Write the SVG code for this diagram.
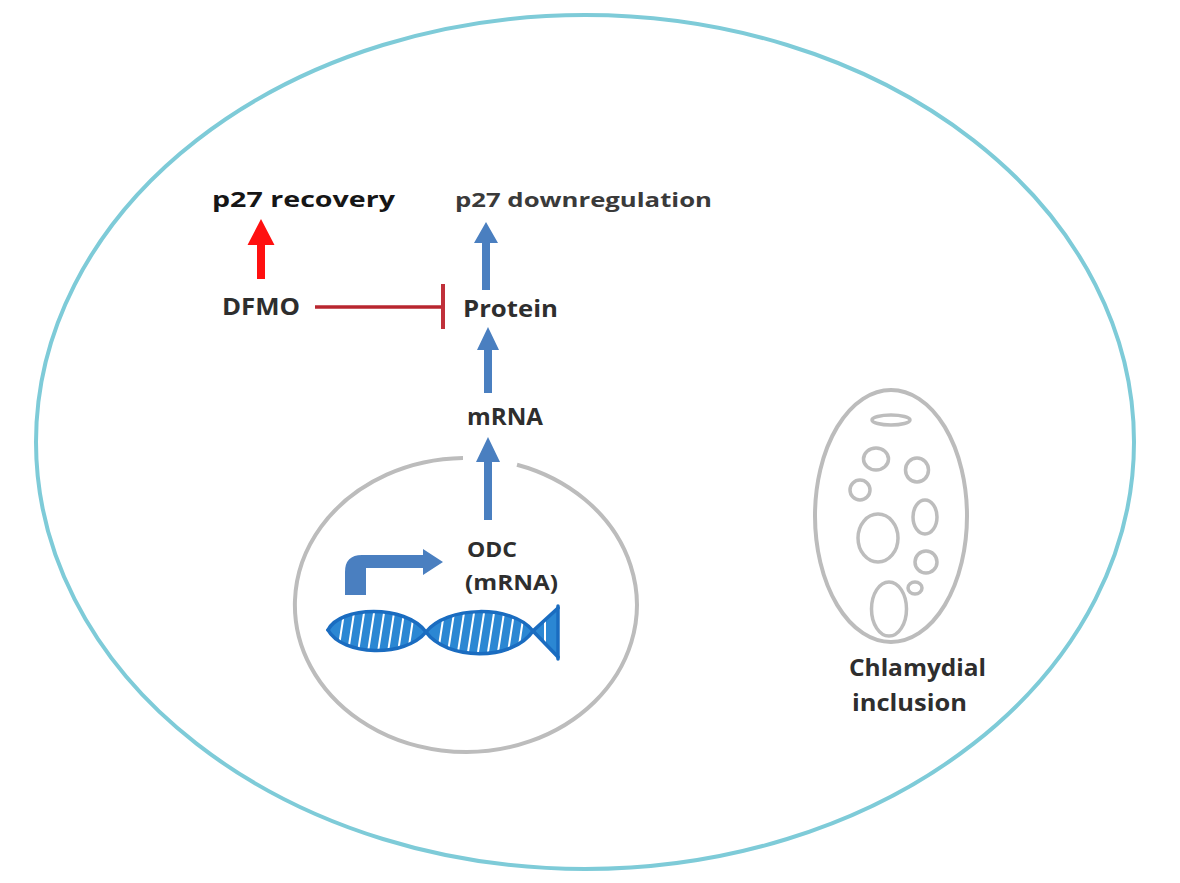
<svg xmlns="http://www.w3.org/2000/svg" width="1180" height="883" viewBox="0 0 1180 883">
  <style>
    .t { font-family: "Open Sans", "Liberation Sans", sans-serif; font-weight: bold; fill: #2e2e2e; }
    .cell { fill: none; stroke: #7ecbd8; stroke-width: 4; }
    .gray { fill: none; stroke: #bcbcbc; stroke-width: 4; }
    .vac { fill: none; stroke: #bdbdbd; stroke-width: 3.5; }
    .blue { fill: #4a7fc0; }
    .red { fill: #ff1010; }
    .inh { stroke: #b8262f; stroke-width: 3.5; fill: none; }
    .strand { fill: none; stroke: #1a6cc0; stroke-width: 3.5; stroke-linecap: round; }
    .rung { stroke: #ffffff; stroke-width: 2; }
  </style>
  <defs>
    <clipPath id="lobe1"><path d="M328,630 C340,606 405,604 426,632 C405,658 342,656 328,630 Z"/></clipPath>
    <clipPath id="lobe2"><path d="M426,632 C446,606 512,604 533,631 C512,662 446,660 426,632 Z"/></clipPath>
  </defs>
  <rect width="1180" height="883" fill="#ffffff"/>

  <g id="cell">
    <ellipse class="cell" cx="585" cy="442" rx="549" ry="427"/>
  </g>

  <g id="nucleus">
    <path class="gray" d="M517,464.7 A171,147 0 1 1 463,458"/>
  </g>

  <g id="dna">
    <path d="M328,630 C340,606 405,604 426,632 C405,658 342,656 328,630 Z" fill="#2b87d3"/>
    <path d="M426,632 C446,606 512,604 533,631 C512,662 446,660 426,632 Z" fill="#2b87d3"/>
    <g clip-path="url(#lobe1)">
      <line class="rung" x1="346" y1="600" x2="336" y2="665"/>
      <line class="rung" x1="356" y1="600" x2="346" y2="665"/>
      <line class="rung" x1="366" y1="600" x2="356" y2="665"/>
      <line class="rung" x1="376" y1="600" x2="366" y2="665"/>
      <line class="rung" x1="386" y1="600" x2="376" y2="665"/>
      <line class="rung" x1="396" y1="600" x2="386" y2="665"/>
      <line class="rung" x1="406" y1="600" x2="396" y2="665"/>
      <line class="rung" x1="416" y1="600" x2="406" y2="665"/>
    </g>
    <g clip-path="url(#lobe2)">
      <line class="rung" x1="446" y1="600" x2="436" y2="665"/>
      <line class="rung" x1="456" y1="600" x2="446" y2="665"/>
      <line class="rung" x1="466" y1="600" x2="456" y2="665"/>
      <line class="rung" x1="476" y1="600" x2="466" y2="665"/>
      <line class="rung" x1="486" y1="600" x2="476" y2="665"/>
      <line class="rung" x1="496" y1="600" x2="486" y2="665"/>
      <line class="rung" x1="506" y1="600" x2="496" y2="665"/>
      <line class="rung" x1="516" y1="600" x2="506" y2="665"/>
      <line class="rung" x1="526" y1="600" x2="516" y2="665"/>
    </g>
    <path d="M533,631 L558,608 L558,657 Z" fill="#2b87d3"/>
    <line class="rung" x1="545" y1="618" x2="545" y2="645"/>
    <path class="strand" d="M328,630 C340,606 405,604 426,632 C446,660 512,662 533,631 L558,608"/>
    <path class="strand" d="M328,630 C342,656 405,658 426,632 C446,606 512,604 533,631 L558,657"/>
    <line class="strand" x1="558" y1="606" x2="558" y2="659"/>
  </g>

  <g id="promoter">
    <path class="blue" d="M345,595 L345,572 Q345,555 362,555 L423,555 L423,549 L443,562 L423,575 L423,568 L366,568 L366,595 Z"/>
  </g>

  <g id="inclusion">
    <ellipse class="gray" cx="891" cy="516" rx="76" ry="126"/>
    <ellipse class="vac" cx="891" cy="420" rx="19" ry="5"/>
    <ellipse class="vac" cx="876" cy="459" rx="12.5" ry="11"/>
    <ellipse class="vac" cx="917" cy="470" rx="11.5" ry="12"/>
    <ellipse class="vac" cx="860" cy="490" rx="10" ry="10"/>
    <ellipse class="vac" cx="925" cy="517" rx="12" ry="17"/>
    <ellipse class="vac" cx="878" cy="538" rx="20" ry="24"/>
    <ellipse class="vac" cx="926" cy="562" rx="11" ry="11"/>
    <ellipse class="vac" cx="889" cy="609" rx="17.5" ry="27"/>
    <ellipse class="vac" cx="915" cy="588" rx="7" ry="6"/>
  </g>

  <g id="connectors">
    <path class="red" d="M257,279 L257,245 L247.5,245 L261,219 L274.5,245 L265,245 L265,279 Z"/>
    <path class="blue" d="M482,290 L482,243 L474,243 L486,222 L498,243 L490,243 L490,290 Z"/>
    <path class="blue" d="M484,393 L484,350 L477,350 L488,327 L499,350 L492,350 L492,393 Z"/>
    <path class="blue" d="M484,520 L484,462 L476,462 L488,437 L500,462 L492,462 L492,520 Z"/>
    <line class="inh" x1="315" y1="307" x2="443" y2="307"/>
    <line x1="443" y1="284" x2="443" y2="329" stroke="#c0303a" stroke-width="4"/>
  </g>

  <g id="labels">
    <text class="t" x="212" y="207" font-size="21" fill="#161616" style="fill:#161616" textLength="183" lengthAdjust="spacingAndGlyphs">p27 recovery</text>
    <text class="t" x="455" y="207" font-size="20" style="fill:#3a3a3a" textLength="257" lengthAdjust="spacingAndGlyphs">p27 downregulation</text>
    <text class="t" x="222" y="315" font-size="23" textLength="78" lengthAdjust="spacingAndGlyphs">DFMO</text>
    <text class="t" x="463" y="317" font-size="23" textLength="95" lengthAdjust="spacingAndGlyphs">Protein</text>
    <text class="t" x="467" y="425" font-size="23" textLength="76" lengthAdjust="spacingAndGlyphs">mRNA</text>
    <text class="t" x="467" y="557" font-size="22" textLength="50" lengthAdjust="spacingAndGlyphs">ODC</text>
    <text class="t" x="465" y="590" font-size="22" textLength="93" lengthAdjust="spacingAndGlyphs">(mRNA)</text>
    <text class="t" x="849" y="676" font-size="23" textLength="137" lengthAdjust="spacingAndGlyphs">Chlamydial</text>
    <text class="t" x="852" y="711" font-size="23" textLength="115" lengthAdjust="spacingAndGlyphs">inclusion</text>
  </g>
</svg>
